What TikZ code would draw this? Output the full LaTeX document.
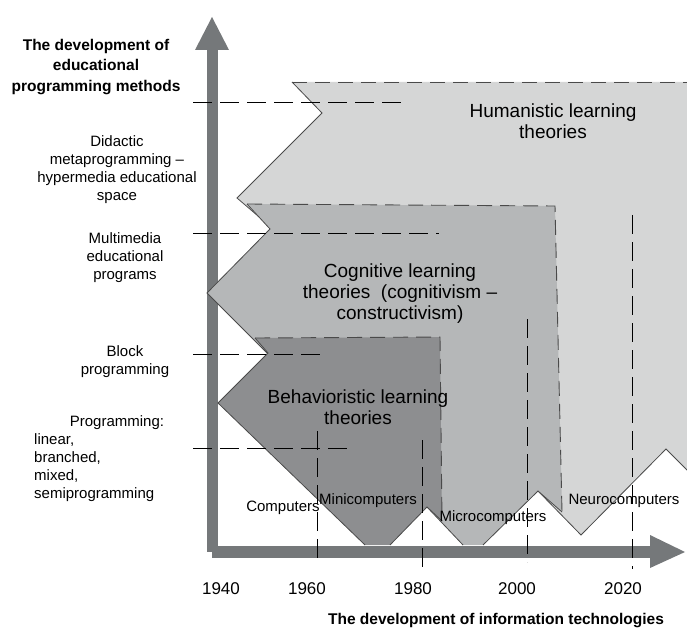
\documentclass[tikz,border=0pt]{standalone}
\usepackage{fontspec}
\setmainfont{Liberation Sans}
\definecolor{axisgray}{HTML}{75787A}
\definecolor{humfill}{HTML}{D5D6D6}
\definecolor{cogfill}{HTML}{B5B7B8}
\definecolor{behfill}{HTML}{8D8E90}
\definecolor{edgegray}{HTML}{4A4A4A}
\tikzset{
  regionedge/.style={draw=edgegray, line width=0.8pt, line join=miter},
  dashedge/.style={draw=edgegray, line width=0.9pt, dash pattern=on 15pt off 8pt},
  guideline/.style={draw=black, line width=0.9pt, dash pattern=on 19pt off 8pt},
  lbl/.style={font=\fontsize{15}{18}\selectfont, align=center, inner sep=0pt},
  biglbl/.style={font=\fontsize{19}{21}\selectfont, align=center, inner sep=0pt},
  yearlbl/.style={font=\fontsize{17}{20}\selectfont, inner sep=0pt},
  titlelbl/.style={font=\bfseries\fontsize{15.5}{20.5}\selectfont, align=center, inner sep=0pt}
}
\begin{document}
\begin{tikzpicture}[x=1pt,y=-1pt]
\useasboundingbox (0,0) rectangle (687,628);
% axes
\fill[axisgray] (207,50) rectangle (218,552);
\fill[axisgray] (195,50) -- (212,17) -- (229,50) -- cycle;
\fill[axisgray] (212,546) rectangle (650,558);
\fill[axisgray] (650,535) -- (685,552) -- (650,568) -- cycle;
% humanistic
\fill[humfill] (292,82) -- (690,82) -- (690,473) -- (666,449) -- (581,535) -- (538,491) -- (470,420) -- (272,228) -- (237,198) -- (322,113) -- cycle;
\draw[dashedge] (292,82) -- (690,82);
\draw[regionedge] (272,228) -- (237,198) -- (322,113) -- (292,82);
\draw[regionedge] (690,473) -- (666,449) -- (581,535) -- (538,491);
% cognitive
\fill[cogfill] (247,204) -- (555,206) -- (562,512) -- (538,491) -- (483,545) -- (463,545) -- (427,507) -- (268,354) -- (207,293) -- (270,229) -- cycle;
\draw[dashedge] (247,204) -- (555,206) -- (562,512);
\draw[regionedge] (562,512) -- (538,491) -- (483,545);
\draw[regionedge] (463,545) -- (427,507);
\draw[regionedge] (268,354) -- (207,293) -- (270,229) -- (247,204);
% behavioristic
\fill[behfill] (255,338) -- (440,337) -- (442,521) -- (427,507) -- (390,545) -- (365,545) -- (218,403) -- (268,353) -- cycle;
\draw[dashedge] (255,338) -- (440,337) -- (442,521);
\draw[regionedge] (442,521) -- (427,507) -- (390,545);
\draw[regionedge] (365,545) -- (218,403) -- (268,353) -- (255,338);
% guides
\draw[guideline] (193,102) -- (405,102);
\draw[guideline] (193,233) -- (439,233);
\draw[guideline] (193,354) -- (327,354);
\draw[guideline] (193,448) -- (353,448);
\draw[guideline] (317,431) -- (317,562);
\draw[guideline] (422,440) -- (422,569);
\draw[guideline] (527,319) -- (527,562);
\draw[guideline] (632,215) -- (632,569);
% left labels
\node[titlelbl] (ytitle) at (96,67) {The development of\\educational\\programming methods};
\node[lbl] (didactic) at (117,170) {Didactic\\metaprogramming –\\hypermedia educational\\space};
\node[lbl] (multimedia) at (125,258) {Multimedia\\educational\\programs};
\node[lbl] (block) at (125,362) {Block\\programming};
\node[lbl] (progr) at (117,423) {Programming:};
\node[lbl, align=left, anchor=west] (progtypes) at (34,468) {linear,\\branched,\\mixed,\\semiprogramming};
% region labels
\node[biglbl] (hum) at (553,121) {Humanistic learning\\theories};
\node[biglbl] (cog) at (400,294) {Cognitive learning\\theories~~(cognitivism –\\constructivism)};
\node[biglbl] (beh) at (358,407) {Behavioristic learning\\theories};
% computer labels
\node[lbl] (comp) at (283,508) {Computers};
\node[lbl] (mini) at (368,501) {Minicomputers};
\node[lbl] (micro) at (493,518) {Microcomputers};
\node[lbl] (neuro) at (624,501) {Neurocomputers};
% years
\node[yearlbl] (y1940) at (221,589) {1940};
\node[yearlbl] (y1960) at (307,589) {1960};
\node[yearlbl] (y1980) at (413,589) {1980};
\node[yearlbl] (y2000) at (517,589) {2000};
\node[yearlbl] (y2020) at (623,589) {2020};
\node[titlelbl] (xtitle) at (496,621) {The development of information technologies};
\end{tikzpicture}
\end{document}
